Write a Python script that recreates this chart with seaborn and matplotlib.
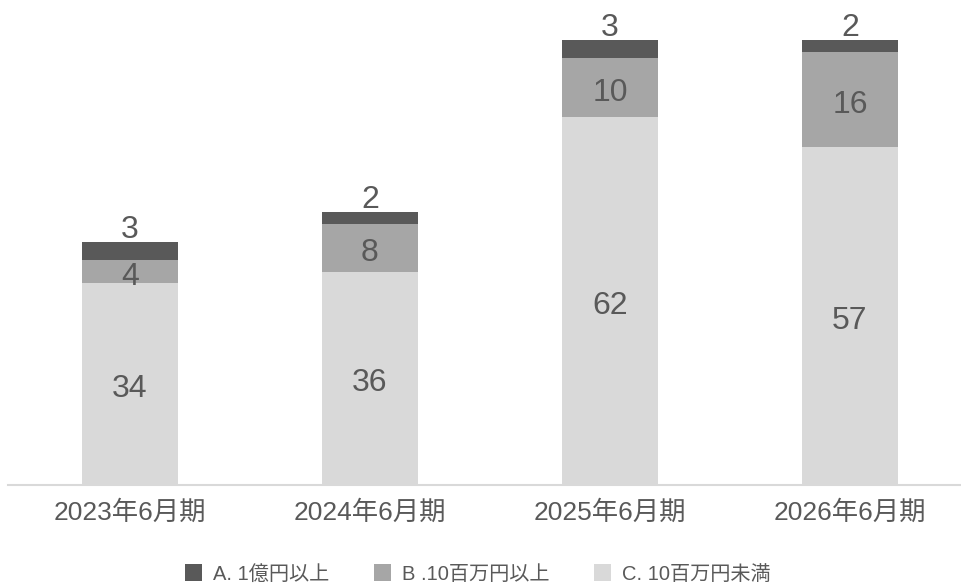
import matplotlib
matplotlib.use("Agg")
import matplotlib.pyplot as plt
import seaborn as sns
import numpy as np
import pandas as pd
from matplotlib.patches import Patch

categories = ["2023年6月期", "2024年6月期", "2025年6月期", "2026年6月期"]
series_names = ["A. 1億円以上", "B .10百万円以上", "C. 10百万円未満"]
a_vals = [3, 2, 3, 2]
b_vals = [4, 8, 10, 16]
c_vals = [34, 36, 62, 57]

colors = ["#595959", "#A6A6A6", "#D9D9D9"]
text_color = "#595959"

sns.set_theme(style="white")
plt.rcParams["font.family"] = ["Liberation Sans", "Noto Sans CJK JP", "DejaVu Sans"]

fig = plt.figure(figsize=(9.61, 5.86), dpi=100)
ax = fig.add_axes([8 / 961, 1 - 485 / 586, 1 - 8 / 961, 485 / 586])

a = np.array(a_vals)
b = np.array(b_vals)
c = np.array(c_vals)
tot = a + b + c
bc = b + c

df = pd.DataFrame({"cat": categories, "tot": tot, "bc": bc, "c": c})
for col, colr in zip(["tot", "bc", "c"], colors):
    sns.barplot(data=df, x="cat", y=col, color=colr, width=0.4, saturation=1,
                linewidth=0, edgecolor="none", ax=ax)

fs = 23
for i in range(len(categories)):
    ax.annotate(str(c[i]), (i, c[i] / 2), xytext=(0, -3.6), textcoords="offset points",
                ha="center", va="center", fontsize=fs, color=text_color)
    ax.annotate(str(b[i]), (i, c[i] + b[i] / 2), xytext=(0, -3.6), textcoords="offset points",
                ha="center", va="center", fontsize=fs, color=text_color)
    ax.annotate(str(a[i]), (i, tot[i]), xytext=(0, -2), textcoords="offset points",
                ha="center", va="bottom", fontsize=fs, color=text_color)

ax.set_xlim(-0.508, 3.4625)
ax.set_ylim(0, 485 / 5.93)
ax.set_xlabel("")
ax.set_ylabel("")
ax.set_yticks([])
for s in ["top", "left", "right"]:
    ax.spines[s].set_visible(False)
ax.spines["bottom"].set_color("#D9D9D9")
ax.spines["bottom"].set_linewidth(1.5)
ax.tick_params(axis="x", length=0, labelsize=19, labelcolor=text_color, pad=11)

handles = [Patch(facecolor=col, edgecolor="none") for col in colors]
fig.legend(handles, series_names, loc="center", bbox_to_anchor=(0.497, 1 - 574 / 586),
           ncol=3, frameon=False, fontsize=14.5, labelcolor=text_color,
           handlelength=0.85, handleheight=0.85, handletextpad=0.55, columnspacing=2.2)

fig.savefig("out.png", dpi=100)
